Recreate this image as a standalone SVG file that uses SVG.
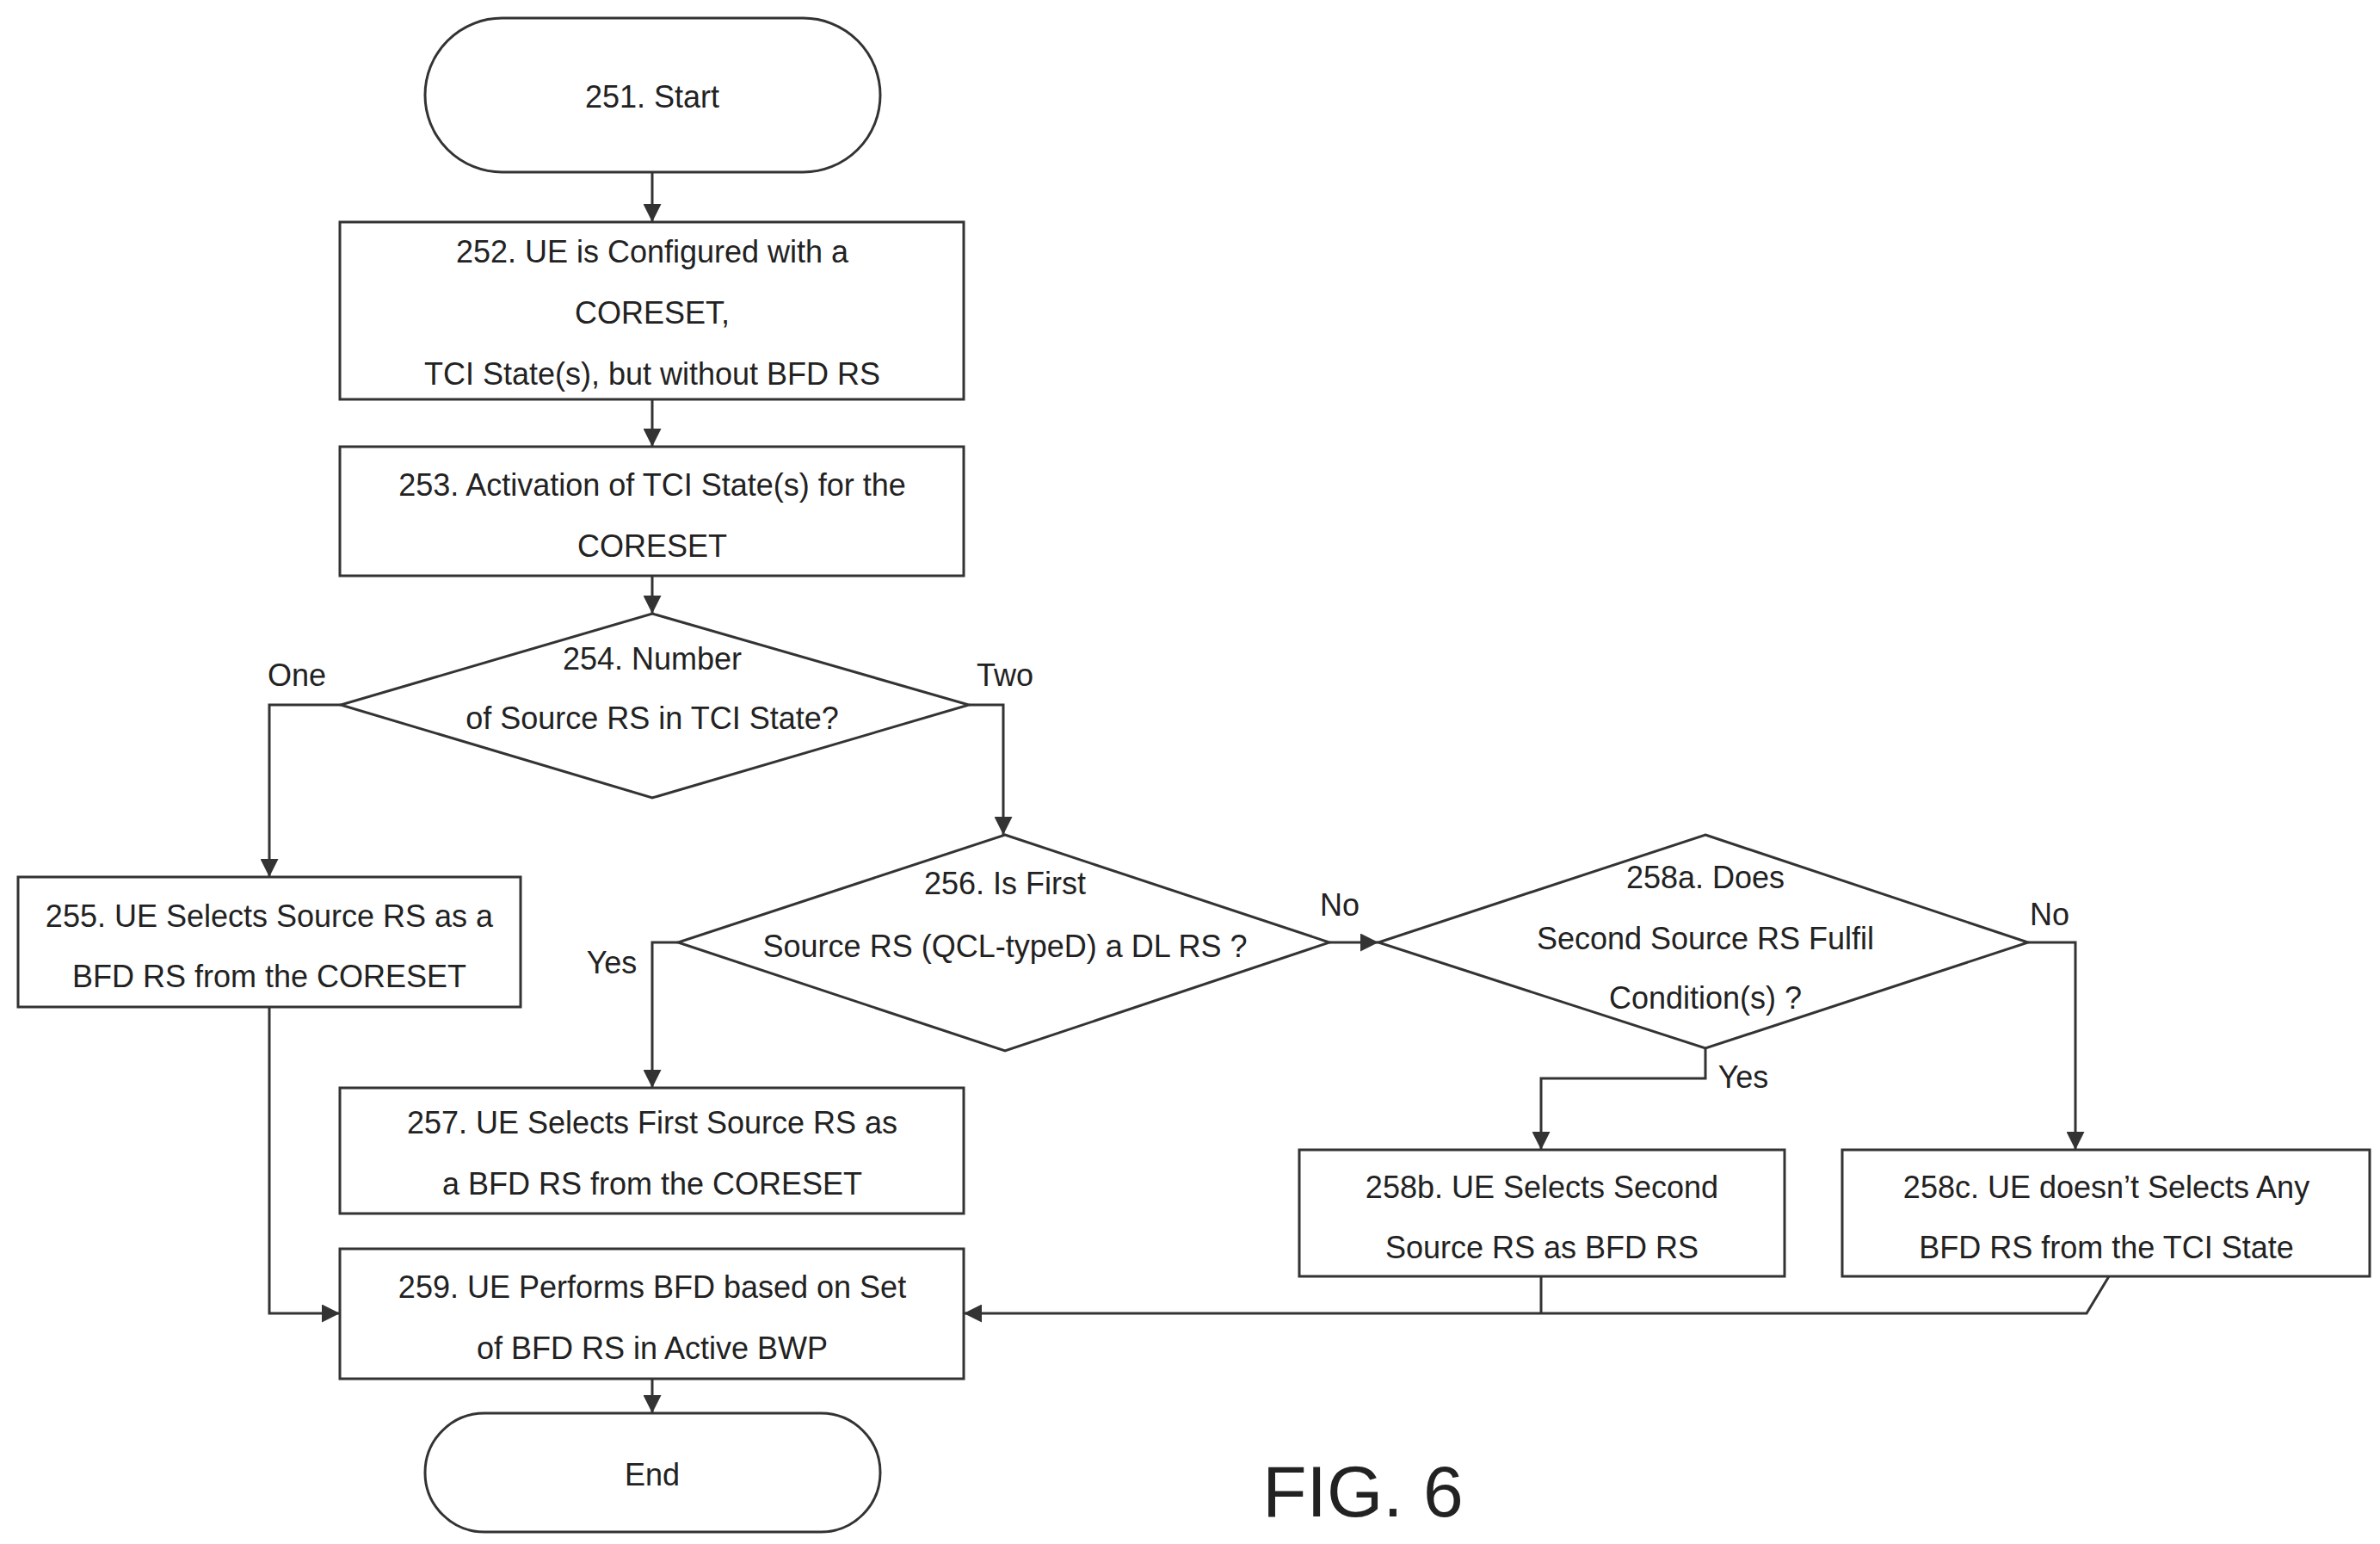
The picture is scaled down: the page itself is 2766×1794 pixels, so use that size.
<svg xmlns="http://www.w3.org/2000/svg" width="2766" height="1794" viewBox="0 0 2766 1794">
<defs>
<marker id="ah" viewBox="0 0 10 10" refX="10" refY="5" markerWidth="7" markerHeight="7" orient="auto" markerUnits="strokeWidth"><path d="M0,0 L10,5 L0,10 z" fill="#333"/></marker>
<style>
.n{fill:#fff;stroke:#333;stroke-width:3}
.t{font-family:"Liberation Sans",Arial,sans-serif;font-size:36px;fill:#222;text-anchor:middle}
.c{fill:none;stroke:#333;stroke-width:3}
.a{marker-end:url(#ah)}
</style>
</defs>
<rect width="2766" height="1794" fill="#fff"/>
<g id="connectors">
<path class="c a" d="M758,200 V258"/>
<path class="c a" d="M758,464 V519"/>
<path class="c a" d="M758,669 V713"/>
<path class="c a" d="M396,819 H313 V1019"/>
<path class="c a" d="M1126,819 H1166 V970"/>
<path class="c a" d="M788,1095 H758 V1264"/>
<path class="c a" d="M1545,1095 H1602"/>
<path class="c a" d="M2357,1095 H2412 V1336"/>
<path class="c a" d="M1982,1218 V1253 H1791 V1336"/>
<path class="c a" d="M313,1170 V1526 H395"/>
<path class="c a" d="M1791,1483 V1526 M2451,1483 L2425,1526 H1120"/>
<path class="c a" d="M758,1602 V1642"/>
</g>
<g id="n251"><rect class="n" x="494" y="21" width="529" height="179" rx="89.5"/><text class="t" x="758" y="125">251. Start</text></g>
<g id="n252"><rect class="n" x="395" y="258" width="725" height="206"/><text class="t" x="758" y="305">252. UE is Configured with a</text><text class="t" x="758" y="376">CORESET,</text><text class="t" x="758" y="447">TCI State(s), but without BFD RS</text></g>
<g id="n253"><rect class="n" x="395" y="519" width="725" height="150"/><text class="t" x="758" y="576">253. Activation of TCI State(s) for the</text><text class="t" x="758" y="647">CORESET</text></g>
<g id="n254"><path class="n" d="M758,713 L1126,819 L758,927 L396,819 Z"/><text class="t" x="758" y="778">254. Number</text><text class="t" x="758" y="847">of Source RS in TCI State?</text></g>
<g id="lbl"><text class="t" x="345" y="797">One</text><text class="t" x="1168" y="797">Two</text><text class="t" x="711" y="1131">Yes</text><text class="t" x="1557" y="1064">No</text><text class="t" x="2382" y="1075">No</text><text class="t" x="2026" y="1264">Yes</text></g>
<g id="n255"><rect class="n" x="21" y="1019" width="584" height="151"/><text class="t" x="313" y="1077">255. UE Selects Source RS as a</text><text class="t" x="313" y="1147">BFD RS from the CORESET</text></g>
<g id="n256"><path class="n" d="M1168,970 L1545,1095 L1168,1221 L788,1095 Z"/><text class="t" x="1168" y="1039">256. Is First</text><text class="t" x="1168" y="1112">Source RS (QCL-typeD) a DL RS ?</text></g>
<g id="n258a"><path class="n" d="M1982,970 L2357,1095 L1982,1218 L1602,1095 Z"/><text class="t" x="1982" y="1032">258a. Does</text><text class="t" x="1982" y="1103">Second Source RS Fulfil</text><text class="t" x="1982" y="1172">Condition(s) ?</text></g>
<g id="n257"><rect class="n" x="395" y="1264" width="725" height="146"/><text class="t" x="758" y="1317">257. UE Selects First Source RS as</text><text class="t" x="758" y="1388">a BFD RS from the CORESET</text></g>
<g id="n258b"><rect class="n" x="1510" y="1336" width="564" height="147"/><text class="t" x="1792" y="1392">258b. UE Selects Second</text><text class="t" x="1792" y="1462">Source RS as BFD RS</text></g>
<g id="n258c"><rect class="n" x="2141" y="1336" width="613" height="147"/><text class="t" x="2448" y="1392">258c. UE doesn’t Selects Any</text><text class="t" x="2448" y="1462">BFD RS from the TCI State</text></g>
<g id="n259"><rect class="n" x="395" y="1451" width="725" height="151"/><text class="t" x="758" y="1508">259. UE Performs BFD based on Set</text><text class="t" x="758" y="1579">of BFD RS in Active BWP</text></g>
<g id="nEnd"><rect class="n" x="494" y="1642" width="529" height="138" rx="69"/><text class="t" x="758" y="1726">End</text></g>
<text x="1584" y="1762" style="font-family:'Liberation Sans',Arial,sans-serif;font-size:84px;fill:#222;text-anchor:middle">FIG. 6</text>
</svg>
